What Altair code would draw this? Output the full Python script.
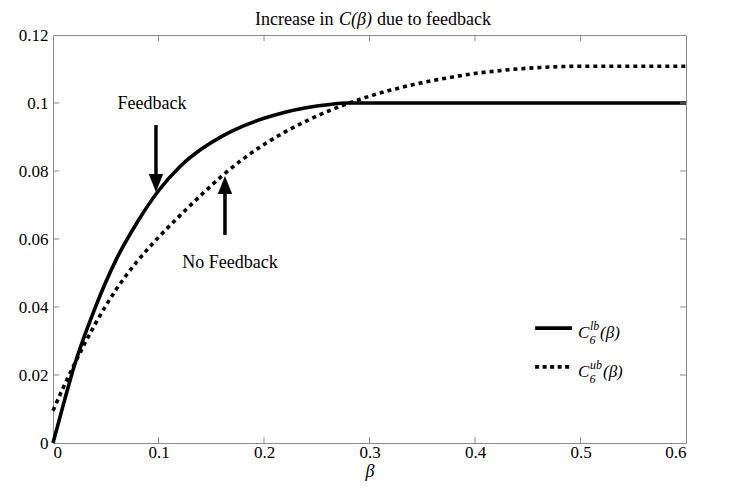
import altair as alt
import pandas as pd

# ---- data ----
beta_lb = [0.00, 0.01, 0.02, 0.04, 0.06, 0.08, 0.10, 0.12, 0.14, 0.16, 0.18,
           0.20, 0.22, 0.24, 0.26, 0.28, 0.30, 0.40, 0.50, 0.60]
c_lb = [0.0000, 0.0115, 0.0225, 0.0398, 0.0540, 0.0650, 0.0742, 0.0812, 0.0863,
        0.0902, 0.0932, 0.0955, 0.0973, 0.0986, 0.0995, 0.1000, 0.1000, 0.1000,
        0.1000, 0.1000]
beta_ub = [0.00, 0.01, 0.02, 0.04, 0.06, 0.08, 0.10, 0.12, 0.14, 0.16, 0.18,
           0.20, 0.22, 0.24, 0.26, 0.28, 0.30, 0.32, 0.34, 0.36, 0.38, 0.40,
           0.42, 0.44, 0.46, 0.48, 0.50, 0.55, 0.60]
c_ub = [0.0095, 0.0165, 0.0230, 0.0350, 0.0452, 0.0535, 0.0605, 0.0668, 0.0728,
        0.0785, 0.0835, 0.0878, 0.0915, 0.0947, 0.0975, 0.0999, 0.1020, 0.1038,
        0.1053, 0.1066, 0.1077, 0.1087, 0.1094, 0.1100, 0.1104, 0.1107, 0.1108,
        0.1108, 0.1108]
x_ticks = [0, 0.1, 0.2, 0.3, 0.4, 0.5, 0.6]
y_ticks = [0, 0.02, 0.04, 0.06, 0.08, 0.1, 0.12]

W, H = 633, 408
FONT = "Liberation Serif"
GRAY = "#8a8a8a"

xs = alt.Scale(domain=[0, 0.6], nice=False, zero=False)
ys = alt.Scale(domain=[0, 0.12], nice=False, zero=False)
XA = alt.Axis(values=x_ticks, format=".1~f", title="β", titleFontStyle="italic",
              titleFontSize=18, titleFontWeight="normal", titlePadding=2, labelPadding=1)
YA = alt.Axis(values=y_ticks, format=".2~f", title=None, labelPadding=5)


def X(field):
    return alt.X(field, scale=xs, axis=XA)


def Y(field):
    return alt.Y(field, scale=ys, axis=YA)


lb_df = pd.DataFrame({"beta": beta_lb, "value": c_lb})
ub_df = pd.DataFrame({"beta": beta_ub, "value": c_ub})

lb_line = alt.Chart(lb_df).mark_line(
    color="black", strokeWidth=3.6, interpolate="monotone"
).encode(x=X("beta:Q"), y=Y("value:Q"))
ub_line = alt.Chart(ub_df).mark_line(
    color="black", strokeWidth=3.6, strokeDash=[4, 4], interpolate="monotone"
).encode(x=X("beta:Q"), y=Y("value:Q"))

# inward ticks on all four sides
xt = pd.DataFrame({"t": x_ticks[1:-1]})
yt = pd.DataFrame({"t": y_ticks[1:-1]})
tick_b = alt.Chart(xt).mark_rule(color=GRAY, strokeWidth=1).encode(
    x=X("t:Q"), y=alt.value(H), y2=alt.value(H - 6))
tick_t = alt.Chart(xt).mark_rule(color=GRAY, strokeWidth=1).encode(
    x=X("t:Q"), y=alt.value(0), y2=alt.value(6))
tick_l = alt.Chart(yt).mark_rule(color=GRAY, strokeWidth=1).encode(
    y=Y("t:Q"), x=alt.value(0), x2=alt.value(6))
tick_r = alt.Chart(yt).mark_rule(color=GRAY, strokeWidth=1).encode(
    y=Y("t:Q"), x=alt.value(W), x2=alt.value(W - 6))

# annotations: arrows and labels
shafts = pd.DataFrame({"beta": [0.0976, 0.163], "y1": [0.0935, 0.0612], "y2": [0.0779, 0.0744]})
shaft = alt.Chart(shafts).mark_rule(color="black", strokeWidth=3.5).encode(
    x=X("beta:Q"), y=Y("y1:Q"), y2="y2:Q")
head_dn = alt.Chart(pd.DataFrame({"beta": [0.0976], "v": [0.0765]})).mark_point(
    shape="M-0.8,-1L0.8,-1L0,1Z", filled=True, color="black", opacity=1, size=324
).encode(x=X("beta:Q"), y=Y("v:Q"))
head_up = alt.Chart(pd.DataFrame({"beta": [0.163], "v": [0.0759]})).mark_point(
    shape="M-0.8,1L0.8,1L0,-1Z", filled=True, color="black", opacity=1, size=324
).encode(x=X("beta:Q"), y=Y("v:Q"))
ann = pd.DataFrame({"beta": [0.0938, 0.1678], "v": [0.0982, 0.0515],
                    "label": ["Feedback", "No Feedback"]})
ann_text = alt.Chart(ann).mark_text(
    font=FONT, fontSize=18, color="black", align="center", baseline="alphabetic"
).encode(x=X("beta:Q"), y=Y("v:Q"), text="label:N")

# legend (drawn inside the plot)
leg_lines = pd.DataFrame({"x1": [0.457, 0.457], "x2": [0.492, 0.492],
                          "v": [0.0338, 0.0224], "s": ["lb", "ub"]})
leg_rule = alt.Chart(leg_lines).mark_rule(strokeWidth=3.6, color="black").encode(
    x=X("x1:Q"), x2="x2:Q", y=Y("v:Q"),
    strokeDash=alt.StrokeDash("s:N", scale=alt.Scale(domain=["lb", "ub"],
                                                     range=[[1, 0], [4, 3.5]]), legend=None))
leg_main = pd.DataFrame({"x": [0.4976, 0.5185, 0.4976, 0.5213],
                         "v": [0.0309, 0.0309, 0.0194, 0.0194],
                         "t": ["C", "(β)", "C", "(β)"]})
leg_sup = pd.DataFrame({"x": [0.5090, 0.5090], "v": [0.0331, 0.0217], "t": ["lb", "ub"]})
leg_sub = pd.DataFrame({"x": [0.5085, 0.5085], "v": [0.0290, 0.0176], "t": ["6", "6"]})


def leg_text(df, size):
    return alt.Chart(df).mark_text(
        font=FONT, fontSize=size, fontStyle="italic", color="black",
        align="left", baseline="alphabetic"
    ).encode(x=X("x:Q"), y=Y("v:Q"), text="t:N")


# title pieces (mixed upright / italic)
def title_piece(txt, px, italic=False):
    kw = dict(font=FONT, fontSize=18, color="black", align="left", baseline="alphabetic")
    if italic:
        kw["fontStyle"] = "italic"
    return alt.Chart(pd.DataFrame({"t": [txt]})).mark_text(**kw).encode(
        x=alt.value(px), y=alt.value(-10), text="t:N")


chart = alt.layer(
    lb_line, ub_line, tick_b, tick_t, tick_l, tick_r,
    shaft, head_dn, head_up, ann_text,
    leg_rule, leg_text(leg_main, 17), leg_text(leg_sup, 12), leg_text(leg_sub, 12),
    title_piece("Increase in", 202), title_piece("C(β)", 286, True),
    title_piece("due to feedback", 324),
).properties(
    width=W, height=H,
    autosize=alt.AutoSizeParams(type="none"),
    padding={"left": 45, "top": 27, "right": 30, "bottom": 39},
).configure_view(
    stroke=GRAY, strokeWidth=1
).configure_axis(
    grid=False, ticks=False, domain=False,
    labelFont=FONT, labelFontSize=17, labelColor="black",
    titleFont=FONT, titleColor="black",
)

chart.save("out.html", embed_options={"renderer": "svg", "actions": False})
